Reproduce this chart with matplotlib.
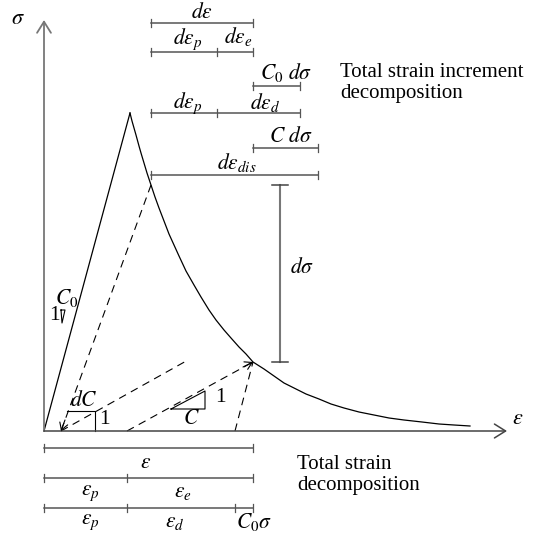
import matplotlib
matplotlib.use("Agg")
import matplotlib.pyplot as plt

plt.rcParams["font.family"] = ["Liberation Serif", "DejaVu Serif"]
plt.rcParams["mathtext.fontset"] = "stix"

# softening branch (strain, stress), from the peak down
curve_strain = [86, 88, 90, 92, 95, 97, 100, 103, 107, 111, 115, 120, 125, 130,
                135, 142, 150, 157, 165, 172, 180, 187, 195, 202, 209, 220, 230,
                240, 250, 262, 275, 287, 300, 315, 330, 345, 360, 378, 395, 410, 426]
curve_stress = [318, 310, 303, 296, 285, 278, 268, 258, 246, 234, 223, 210, 197, 186,
                175, 160, 146, 134, 121, 111, 101, 93, 84, 77, 69, 62, 55,
                48, 43, 37, 32, 27, 23, 19, 16, 13, 11, 9, 7, 6, 5]

peak = (86, 318)          # end of the linear C0 branch
state_a = (107, 246)      # upper state on the softening branch
state_b = (209, 69)       # lower state on the softening branch
eps_p_a = 17              # plastic strain at state A
eps_p_b = 83              # plastic strain at state B
eps_d_end = 191           # strain after elastic (C0) unloading from B
c0_dsigma_end = 256       # end of C0 dsigma increment
c_dsigma_end = 274        # end of C dsigma increment
reload_top = (144, 71)    # end of reloading line from eps_p_a

GRAY = "#555555"
FS = 15.5

fig = plt.figure(figsize=(5.34, 5.41), dpi=100)
ax = fig.add_axes([0, 0, 1, 1])
ax.set_xlim(-44, 490)
ax.set_ylim(-110, 431)
ax.axis("off")

# axes with open arrow heads
arrow = dict(arrowstyle="->,head_length=0.8,head_width=0.5", lw=1.3,
             shrinkA=0, shrinkB=0, mutation_scale=10)
ax.annotate("", xy=(0, 411), xytext=(0, 0), arrowprops=dict(arrow, color="#777777"))
ax.annotate("", xy=(463, 0), xytext=(0, 0), arrowprops=dict(arrow, color="#444444", lw=1.1))
ax.text(-26, 411, r"$\sigma$", fontsize=16, ha="center", va="center")
ax.text(474, 11, r"$\varepsilon$", fontsize=16, ha="center", va="center")

# stress-strain curve
ax.plot([0, peak[0]], [0, peak[1]], color="black", lw=0.9)
ax.plot(curve_strain, curve_stress, color="black", lw=0.9)

# dashed unloading / reloading paths
dash = dict(color="black", lw=0.8, linestyle=(0, (7, 5)))
ax.plot([state_a[0], eps_p_a], [state_a[1], 0], **dash)
ax.plot([eps_p_a, reload_top[0]], [0, reload_top[1]], **dash)
ax.plot([eps_p_b, state_b[0]], [0, state_b[1]], **dash)
ax.plot([eps_d_end, state_b[0]], [0, state_b[1]], **dash)
small = dict(arrowstyle="->,head_length=0.5,head_width=0.3", lw=0.8, color="black",
             shrinkA=0, shrinkB=0, mutation_scale=10)
ax.annotate("", xy=(eps_p_a, 0), xytext=(eps_p_a + 4, 11), arrowprops=small)
ax.annotate("", xy=state_b, xytext=(state_b[0] - 10, state_b[1] - 5), arrowprops=small)

# slope triangles
ax.plot([17, 21, 18, 17], [121, 121, 108, 121], color="black", lw=0.8)
ax.text(23, 133, r"$C_0$", fontsize=FS, ha="center", va="center")
ax.text(10, 115, "1", fontsize=FS, ha="center", va="center")
ax.plot([23, 51, 51], [20, 20, 0], color="black", lw=0.8)
ax.text(40, 30, r"$dC$", fontsize=FS, ha="center", va="center")
ax.text(60, 11, "1", fontsize=FS, ha="center", va="center")
ax.plot([127, 161, 161, 127], [22, 22, 40, 22], color="black", lw=0.8)
ax.text(147, 11, r"$C$", fontsize=FS, ha="center", va="center")
ax.text(176, 34, "1", fontsize=FS, ha="center", va="center")


def hbar(y, x0, x1, ticks=(), color=GRAY):
    ax.plot([x0, x1], [y, y], color=color, lw=1.1)
    for t in [x0, x1, *ticks]:
        ax.plot([t, t], [y - 4, y + 4], color=color, lw=0.9)


# strain increment decomposition
split = state_a[0] + (eps_p_b - eps_p_a)
hbar(408, state_a[0], state_b[0])
hbar(379, state_a[0], state_b[0], [split])
hbar(345, state_b[0], c0_dsigma_end)
hbar(318, state_a[0], c0_dsigma_end, [split])
hbar(283, state_b[0], c_dsigma_end)
hbar(256, state_a[0], c_dsigma_end)

ax.text(158, 418, r"$d\varepsilon$", fontsize=FS, ha="center", va="center")
ax.text(144, 392, r"$d\varepsilon_p$", fontsize=FS, ha="center", va="center")
ax.text(194, 394, r"$d\varepsilon_e$", fontsize=FS, ha="center", va="center")
ax.text(242, 358, r"$C_0\ d\sigma$", fontsize=FS, ha="center", va="center")
ax.text(144, 328, r"$d\varepsilon_p$", fontsize=FS, ha="center", va="center")
ax.text(221, 328, r"$d\varepsilon_d$", fontsize=FS, ha="center", va="center")
ax.text(247, 294, r"$C\ d\sigma$", fontsize=FS, ha="center", va="center")
ax.text(193, 268, r"$d\varepsilon_{dis}$", fontsize=FS, ha="center", va="center")

# stress increment
dsig_x = 236
ax.plot([dsig_x, dsig_x], [state_b[1], state_a[1]], color="#777777", lw=1.5)
for s in (state_a[1], state_b[1]):
    ax.plot([dsig_x - 8, dsig_x + 8], [s, s], color="#444444", lw=1.1)
ax.text(258, 163, r"$d\sigma$", fontsize=FS, ha="center", va="center")

ax.text(296, 368, "Total strain increment\ndecomposition", fontsize=15,
        ha="left", va="top", linespacing=1.15)

# total strain decomposition
hbar(-17, 0, state_b[0])
hbar(-47, 0, state_b[0], [eps_p_b])
hbar(-77, 0, state_b[0], [eps_p_b, eps_d_end])
ax.text(102, -32, r"$\varepsilon$", fontsize=FS, ha="center", va="center")
ax.text(46, -62, r"$\varepsilon_p$", fontsize=FS, ha="center", va="center")
ax.text(139, -62, r"$\varepsilon_e$", fontsize=FS, ha="center", va="center")
ax.text(46, -91, r"$\varepsilon_p$", fontsize=FS, ha="center", va="center")
ax.text(131, -91, r"$\varepsilon_d$", fontsize=FS, ha="center", va="center")
ax.text(210, -91, r"$C_0\sigma$", fontsize=FS, ha="center", va="center")
ax.text(253, -24, "Total strain\ndecomposition", fontsize=15,
        ha="left", va="top", linespacing=1.15)

fig.savefig("out.png", dpi=100)
